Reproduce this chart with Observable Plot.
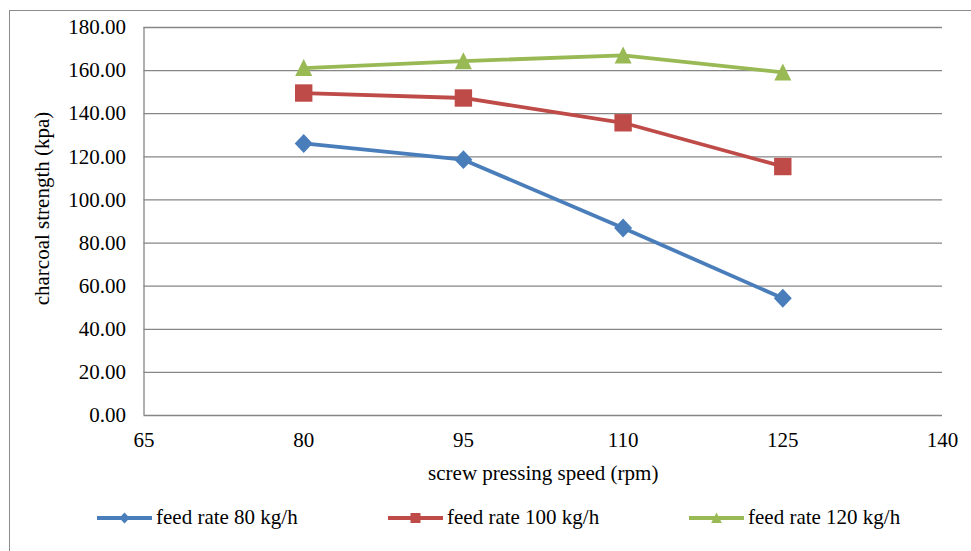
<!DOCTYPE html>
<html><head><meta charset="utf-8">
<script src="https://cdn.jsdelivr.net/npm/d3@7"></script>
<script src="https://cdn.jsdelivr.net/npm/@observablehq/plot@0.6"></script>
<style>
html,body{margin:0;padding:0;background:#fff;overflow:hidden;}
#wrap{position:relative;width:971px;height:551px;overflow:hidden;}
#frame{position:absolute;left:9px;top:10px;width:1000px;height:600px;border:1px solid #8c8c8c;}
#chart{position:absolute;left:0;top:0;}
#legend{position:absolute;left:0;top:490px;}
svg, svg text{font-family:"Liberation Serif","Times New Roman",serif !important;}
</style>
</head><body>
<div id="wrap"><div id="frame"></div><div id="chart"></div><div id="legend"></div></div>
<script>
const speeds = [80, 95, 110, 125];
const rate80 = [126.2, 118.7, 87.0, 54.4];
const rate100 = [149.6, 147.3, 135.8, 115.5];
const rate120 = [161.2, 164.4, 167.1, 159.2];
const seriesNames = ["feed rate 80 kg/h", "feed rate 100 kg/h", "feed rate 120 kg/h"];
const xTicks = [65, 80, 95, 110, 125, 140];
const yTicks = [0, 20, 40, 60, 80, 100, 120, 140, 160, 180];
const xTitle = "screw pressing speed (rpm)";
const yTitle = "charcoal strength (kpa)";

const colors = ["#4A7EBB", "#BE4B48", "#98B954"];
// custom marker shapes (half-size k)
const mkDiamond = k => ({draw(c) { c.moveTo(0, -k * 1.05); c.lineTo(k, 0); c.lineTo(0, k * 1.05); c.lineTo(-k, 0); c.closePath(); }});
const mkSquare = k => ({draw(c) { c.rect(-k, -k, 2 * k, 2 * k); }});
const mkTriangle = k => ({draw(c) { c.moveTo(0, -k * 1.05); c.lineTo(k, k * 0.95); c.lineTo(-k, k * 0.95); c.closePath(); }});
const chartSymbols = [mkDiamond(9), mkSquare(8.7), mkTriangle(8.5)];
const legendSymbols = [mkDiamond(5.2), mkSquare(5), mkTriangle(5.3)];
const values = [rate80, rate100, rate120];

const rows = values.map((vals, s) => speeds.map((x, i) => ({series: seriesNames[s], x, y: vals[i]})));
const grid = "#868686";

const chart = Plot.plot({
  width: 971,
  height: 490,
  marginLeft: 143.5,
  marginRight: 29,
  marginTop: 27,
  marginBottom: 75,
  style: {fontSize: "21px", color: "#000", background: "transparent"},
  x: {domain: [65, 140]},
  y: {domain: [0, 180]},
  marks: [
    Plot.ruleY(yTicks, {stroke: grid, strokeWidth: 1.3}),
    Plot.ruleX([65], {stroke: grid, strokeWidth: 1.3}),
    Plot.axisY(yTicks, {tickSize: 0, tickPadding: 18, tickFormat: d3.format(".2f"), label: null}),
    Plot.axisX(xTicks, {tickSize: 0, tickPadding: 17, tickFormat: d => String(d), label: null}),
    Plot.text([xTitle], {frameAnchor: "bottom", textAnchor: "middle", lineAnchor: "middle", dy: 57.5, text: d => d}),
    Plot.text([yTitle], {frameAnchor: "left", textAnchor: "middle", lineAnchor: "middle", rotate: -90, dx: -102, dy: -13, text: d => d}),
    ...rows.map((r, s) => Plot.line(r, {x: "x", y: "y", stroke: colors[s], strokeWidth: 3.8})),
    ...rows.map((r, s) => Plot.dot(r, {x: "x", y: "y", symbol: chartSymbols[s], r: 5, fill: colors[s], stroke: "none"}))
  ]
});
document.getElementById("chart").appendChild(chart);

// legend
const legendX = [97, 388, 689];
const lg = d3.select("#legend").append("svg").attr("width", 971).attr("height", 61)
  .style("font-size", "21px");
seriesNames.forEach((name, s) => {
  const g = lg.append("g").attr("transform", `translate(${legendX[s]},28)`);
  g.append("line").attr("x1", 0).attr("x2", 55).attr("y1", 0).attr("y2", 0)
    .attr("stroke", colors[s]).attr("stroke-width", 4);
  const p = d3.path();
  legendSymbols[s].draw(p);
  g.append("path").attr("transform", "translate(27.5,0)").attr("d", p.toString()).attr("fill", colors[s]);
  g.append("text").attr("x", 59).attr("y", 0).attr("dy", "0.3em").attr("fill", "#000").text(name);
});
</script>
</body></html>
